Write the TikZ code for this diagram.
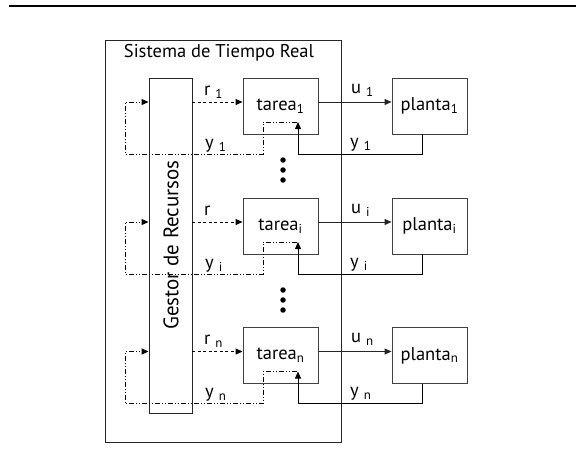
\documentclass[tikz,border=0pt]{standalone}
\usepackage{fontspec}
\setmainfont{PT Sans}
\usetikzlibrary{arrows.meta}
\tikzset{
  box/.style={draw=black!75, line width=0.9pt, minimum width=75pt, minimum height=56pt, inner sep=0pt},
  lbl/.style={inner sep=0pt},
  sig/.style={line width=0.9pt, -{Triangle[length=7pt,width=6pt]}},
  req/.style={sig, dash pattern=on 3pt off 2.5pt},
  fb/.style={line width=0.9pt, dash pattern=on 5pt off 2pt on 1pt off 2pt on 1pt off 2pt},
  fbarrow/.style={fb, -{Triangle[length=7pt,width=6pt]}},
  dot/.style={circle, fill=black, inner sep=0pt, minimum size=5.5pt},
}
\begin{document}
\begin{tikzpicture}[x=1pt, y=-1pt, font=\fontsize{18.5}{18.5}\selectfont]
\useasboundingbox (0,0) rectangle (576,466);

% top rule
\coordinate (ruleL) at (9,5.7);
\coordinate (ruleR) at (576,5.7);
\draw[line width=2pt] (ruleL) -- (ruleR);

% real-time system enclosure
\node[draw=black!85, line width=0.9pt, minimum width=236pt, minimum height=402pt, inner sep=0pt] (sys) at (223,241) {};
\node[lbl, anchor=north] (systitle) at (219,44) {Sistema de Tiempo Real};

% resource manager
\node[draw=black!85, line width=0.9pt, minimum width=43pt, minimum height=335pt, inner sep=0pt] (gestor) at (170.5,245.5) {};
\node[lbl, rotate=90, font=\fontsize{21}{21}\selectfont] (gestortxt) at (171,245) {Gestor de Recursos};

% rows: tasks and plants
\foreach \c/\s/\rs [count=\k] in {106/1/{ \textsubscript{1}}, 226/i/{}, 355.5/n/{ \textsubscript{n}}} {
  \node[box] (tarea\k) at (280.5,\c) {tarea\textsubscript{\s}};
  \node[box] (planta\k) at (429.5,\c) {planta\textsubscript{\s}};

  % reference from the manager
  \coordinate (rin\k) at (243,\c-4);
  \draw[req] (gestor.east |- rin\k) -- (tarea\k.west |- rin\k);
  \node[lbl, anchor=base west] (rl\k) at (204,\c-11) {r\rs};

  % control action to the plant
  \coordinate (uin\k) at (392,\c-4);
  \draw[sig, black!85] (tarea\k.east |- uin\k) -- (planta\k.west |- uin\k);
  \node[lbl, anchor=base west] (ul\k) at (351,\c-13) {u \textsubscript{\s}};

  % plant output back to the task
  \coordinate (yout\k) at (422,\c+28);
  \coordinate (ytip\k) at (298,\c+16);
  \draw[sig] (yout\k) |- (298,\c+48) -- (ytip\k);
  \node[lbl, anchor=base west] (yl\k) at (350,\c+41) {y \textsubscript{\s}};

  % measured output forwarded to the manager
  \coordinate (fb\k) at (297,\c+16);
  \draw[fbarrow] (fb\k) -- (263,\c+16) -- (263,\c+48) -- (125,\c+48) -- (125,\c-4) -- (gestor.west |- rin\k);
  \node[lbl, anchor=base west] (yf\k) at (205,\c+42) {y \textsubscript{\s}};
}

% ellipses between rows
\foreach \y [count=\j] in {160,170,180} {
  \node[dot] (da\j) at (283,\y) {};
}
\foreach \y [count=\j] in {290,300,310} {
  \node[dot] (db\j) at (283,\y) {};
}
\end{tikzpicture}
\end{document}
